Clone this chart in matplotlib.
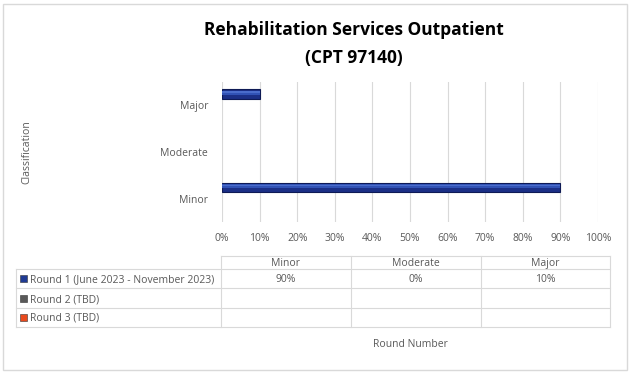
import matplotlib
matplotlib.use("Agg")
import matplotlib.pyplot as plt
from matplotlib.patches import Rectangle

categories = ["Minor", "Moderate", "Major"]
series_names = ["Round 1 (June 2023 - November 2023)", "Round 2 (TBD)", "Round 3 (TBD)"]
series_values = [[90, 0, 10], [None, None, None], [None, None, None]]
series_colors = ["#1F3A93", "#595959", "#E8491D"]
x_ticks = [0, 10, 20, 30, 40, 50, 60, 70, 80, 90, 100]
x_tick_labels = [f"{t}%" for t in x_ticks]
title = "Rehabilitation Services Outpatient\n(CPT 97140)"

W, H = 631, 374
fig = plt.figure(figsize=(W / 100, H / 100), dpi=100)
plt.rcParams['font.family'] = ['Open Sans', 'DejaVu Sans']
grey = "#595959"

# overlay axes in pixel coords for border and table
ov = fig.add_axes([0, 0, 1, 1], zorder=0)
ov.set_xlim(0, W)
ov.set_ylim(H, 0)
ov.axis("off")
ov.add_patch(Rectangle((3, 4), W - 7, H - 8, fill=False, edgecolor="#D9D9D9", lw=1))

# main axes
left, right, top, bottom = 222, 598, 82, 222
ax = fig.add_axes([left / W, (H - bottom) / H, (right - left) / W, (bottom - top) / H], zorder=2)
ax.patch.set_alpha(0)
ax.set_xlim(0, 100)
ax.set_ylim(-0.5, 2.5)
ax.set_xticks(x_ticks)
ax.set_xticklabels(x_tick_labels, fontsize=7.5, color=grey)
ax.set_yticks(range(len(categories)))
ax.set_yticklabels(categories, fontsize=7.5, color=grey)
ax.tick_params(length=0, pad=8)
ax.tick_params(axis="y", pad=10)
ax.grid(axis="x", color="#D9D9D9", lw=0.8)
ax.set_axisbelow(True)
for s in ax.spines.values():
    s.set_visible(False)

bh = 0.21
offsets = [0.24, 0.0, -0.24]
for si, vals in enumerate(series_values):
    ys = [i + offsets[si] for i, x in enumerate(vals) if x]
    v = [x for x in vals if x]
    if not v:
        continue
    ax.barh(ys, v, height=bh, color="#1B2F86", edgecolor="#0E1A55", lw=0.8, zorder=3)
    ax.barh([y + bh * 0.12 for y in ys], v, height=bh * 0.45, color="#3152B5", lw=0, zorder=4)
    ax.barh([y + bh * 0.2 for y in ys], v, height=bh * 0.15, color="#4A6CCB", lw=0, zorder=5)

fig.text(27 / W, 1 - 152 / H, "Classification", rotation=90, fontsize=7.5, color=grey,
         ha="center", va="center")
fig.text(354 / W, 1 - 44 / H, title, fontsize=12.5, fontweight="bold", ha="center",
         va="center", linespacing=1.65, color="black")

# table
col_x = [16, 221, 351, 481, 610]
row_y = [256, 269, 288, 308, 327]
lc = "#D9D9D9"
ov.plot([col_x[1], col_x[-1]], [row_y[0], row_y[0]], color=lc, lw=0.8)
for y in row_y[1:]:
    ov.plot([col_x[0], col_x[-1]], [y, y], color=lc, lw=0.8)
ov.plot([col_x[0], col_x[0]], [row_y[1], row_y[-1]], color=lc, lw=0.8)
for x in col_x[1:]:
    ov.plot([x, x], [row_y[0], row_y[-1]], color=lc, lw=0.8)
for ci, c in enumerate(categories):
    cx = (col_x[ci + 1] + col_x[ci + 2]) / 2
    ov.text(cx, row_y[1] - 3, c, fontsize=7.5, color=grey, ha="center", va="baseline")
for si, name in enumerate(series_names):
    base = row_y[si + 2] - 6
    cy = (row_y[si + 1] + row_y[si + 2]) / 2
    ov.add_patch(Rectangle((20, cy - 3.5), 7, 7, facecolor=series_colors[si], edgecolor="#333333", lw=0.4))
    ov.text(30, base, name, fontsize=7.5, color=grey, ha="left", va="baseline")
    for ci, v in enumerate(series_values[si]):
        if v is not None:
            cx = (col_x[ci + 1] + col_x[ci + 2]) / 2
            ov.text(cx, base, f"{v}%", fontsize=7.5, color=grey, ha="center", va="baseline")

ov.text(410, 347, "Round Number", fontsize=7.5, color=grey, ha="center", va="baseline")

fig.savefig("out.png", dpi=100)
